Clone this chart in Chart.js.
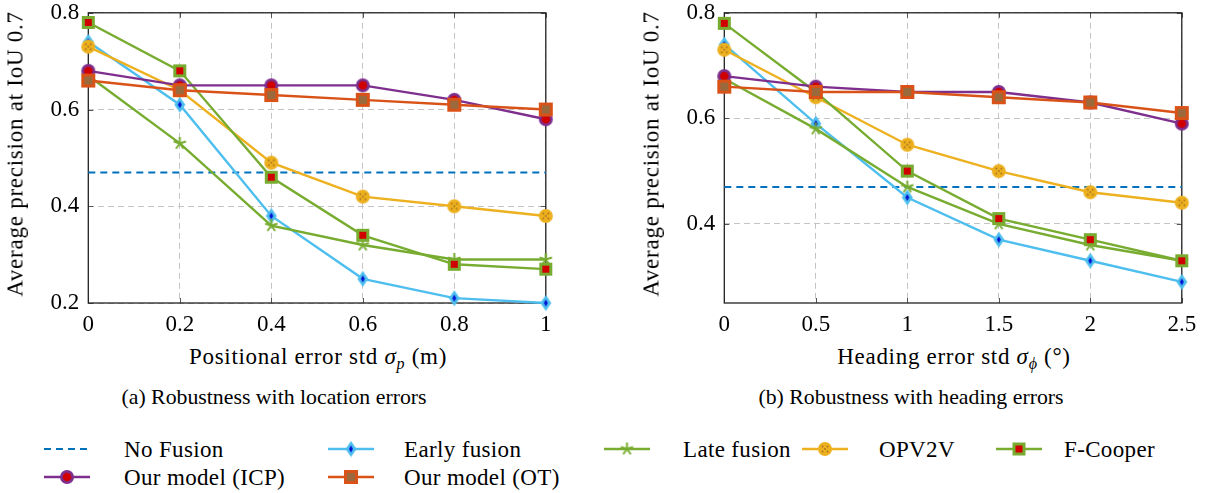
<!DOCTYPE html>
<html>
<head>
<meta charset="utf-8">
<script src="https://cdn.jsdelivr.net/npm/chart.js@4"></script>
<style>
  *{box-sizing:border-box;margin:0;padding:0}
  body{width:1205px;height:493px;overflow:hidden;position:relative;background:#fff;font-family:"Liberation Serif",serif;color:#000}
  .chart{position:absolute;top:-10px;width:569px;height:349px}
  .ytitle{position:absolute;top:153.5px;width:320px;text-align:center;font-size:23px;line-height:1;letter-spacing:0.75px;white-space:nowrap;transform:translate(-50%,-50%) rotate(-90deg)}
  .xtitle{position:absolute;top:345px;font-size:23px;line-height:1;letter-spacing:0.7px;white-space:nowrap;transform:translateX(-50%)}
  .xtitle sub{font-size:16px;vertical-align:-5px;line-height:0}
  .caption{position:absolute;top:387px;font-size:21.8px;line-height:1;white-space:nowrap;transform:translateX(-50%)}
  .leg{position:absolute;font-size:23px;line-height:1;letter-spacing:0.35px;white-space:nowrap}
</style>
</head>
<body>
<div class="chart" style="left:0"><canvas id="posChart"></canvas></div>
<div class="chart" style="left:636px"><canvas id="headChart"></canvas></div>

<div class="ytitle" style="left:15px">Average precision at IoU 0.7</div>
<div class="ytitle" style="left:651px">Average precision at IoU 0.7</div>
<div class="xtitle" style="left:318px">Positional error std <i>σ</i><sub><i>p</i></sub> (m)</div>
<div class="xtitle" style="left:954px">Heading error std <i>σ</i><sub><i>ϕ</i></sub> (°)</div>
<div class="caption" style="left:274px">(a) Robustness with location errors</div>
<div class="caption" style="left:911px">(b) Robustness with heading errors</div>

<div id="legend"></div>

<script>
// x categories and y ticks
const posLabels = ["0", "0.2", "0.4", "0.6", "0.8", "1"];
const headLabels = ["0", "0.5", "1", "1.5", "2", "2.5"];
const posTicks = [0.2, 0.4, 0.6, 0.8];
const headTicks = [0.4, 0.6, 0.8];

// (a) positional error
const posNoFusion = [0.47, 0.47, 0.47, 0.47, 0.47, 0.47];
const posEarly = [0.74, 0.61, 0.38, 0.25, 0.21, 0.20];
const posLate = [0.67, 0.53, 0.36, 0.32, 0.29, 0.29];
const posOPV2V = [0.73, 0.64, 0.49, 0.42, 0.40, 0.38];
const posFCooper = [0.78, 0.68, 0.46, 0.34, 0.28, 0.27];
const posICP = [0.68, 0.65, 0.65, 0.65, 0.62, 0.58];
const posOT = [0.66, 0.64, 0.63, 0.62, 0.61, 0.60];

// (b) heading error
const headNoFusion = [0.47, 0.47, 0.47, 0.47, 0.47, 0.47];
const headEarly = [0.74, 0.59, 0.45, 0.37, 0.33, 0.29];
const headLate = [0.675, 0.58, 0.47, 0.40, 0.36, 0.33];
const headOPV2V = [0.73, 0.64, 0.55, 0.50, 0.46, 0.44];
const headFCooper = [0.78, 0.65, 0.50, 0.41, 0.37, 0.33];
const headICP = [0.68, 0.66, 0.65, 0.65, 0.63, 0.59];
const headOT = [0.66, 0.65, 0.65, 0.64, 0.63, 0.61];

const FONT = '"Liberation Serif", serif';

// marker images
function mk(w, h, draw) {
  const c = document.createElement("canvas");
  c.width = w; c.height = h;
  draw(c.getContext("2d"));
  return c;
}
const mDiamond = mk(12, 17, g => {
  g.fillStyle = "#4DBEEE";
  g.beginPath(); g.moveTo(6, 0.5); g.lineTo(11.5, 8.5); g.lineTo(6, 16.5); g.lineTo(0.5, 8.5); g.closePath(); g.fill();
  g.fillStyle = "#0010D0";
  g.beginPath(); g.moveTo(6, 5); g.lineTo(8, 8.5); g.lineTo(6, 12); g.lineTo(4, 8.5); g.closePath(); g.fill();
});
const mStar = mk(15, 15, g => {
  g.strokeStyle = "#77AC30"; g.lineWidth = 2;
  for (let i = 0; i < 5; i++) {
    const a = -Math.PI / 2 + i * 2 * Math.PI / 5;
    g.beginPath(); g.moveTo(7.5, 7.5); g.lineTo(7.5 + 6.5 * Math.cos(a), 7.5 + 6.5 * Math.sin(a)); g.stroke();
  }
});
const mOPV = mk(16, 16, g => {
  g.fillStyle = "#EDB120";
  g.beginPath(); g.arc(8, 8, 7, 0, Math.PI * 2); g.fill();
  g.fillStyle = "#A8701C";
  [[5.5, 5.5], [10.5, 5.5], [8, 8], [5.5, 10.5], [10.5, 10.5]].forEach(([x, y]) => {
    g.beginPath(); g.arc(x, y, 0.9, 0, Math.PI * 2); g.fill();
  });
});
const mFC = mk(15, 15, g => {
  g.fillStyle = "#77AC30"; g.fillRect(1, 1, 13, 13);
  g.fillStyle = "#D00000"; g.fillRect(4, 4, 7, 7);
});
const mICP = mk(16, 16, g => {
  g.fillStyle = "#7E2F8E"; g.beginPath(); g.arc(8, 8, 7, 0, Math.PI * 2); g.fill();
  g.fillStyle = "#D00000"; g.beginPath(); g.arc(8, 8, 4.3, 0, Math.PI * 2); g.fill();
});
const mOT = mk(16, 16, g => {
  g.fillStyle = "#D95319"; g.fillRect(1, 1, 14, 14);
  g.fillStyle = "#9B6A3C"; g.fillRect(4, 4, 8, 8);
});

const series = [
  { label: "No Fusion", color: "#0072BD", marker: null, dash: [7, 5], width: 2 },
  { label: "Early fusion", color: "#4DBEEE", marker: mDiamond },
  { label: "Late fusion", color: "#77AC30", marker: mStar },
  { label: "OPV2V", color: "#EDB120", marker: mOPV },
  { label: "F-Cooper", color: "#77AC30", marker: mFC },
  { label: "Our model (ICP)", color: "#7E2F8E", marker: mICP },
  { label: "Our model (OT)", color: "#D95319", marker: mOT }
];

// axis box with small inner tick marks, drawn under the data
const framePlugin = {
  id: "frame",
  beforeDatasetsDraw(chart) {
    const { ctx, chartArea: a, scales } = chart;
    ctx.save();
    ctx.strokeStyle = "#555"; ctx.lineWidth = 1;
    scales.x.ticks.forEach((t, i) => {
      const px = Math.round(scales.x.getPixelForTick(i)) + 0.5;
      ctx.beginPath(); ctx.moveTo(px, a.bottom); ctx.lineTo(px, a.bottom - 5);
      ctx.moveTo(px, a.top); ctx.lineTo(px, a.top + 5); ctx.stroke();
    });
    scales.y.ticks.forEach(t => {
      const py = Math.round(scales.y.getPixelForValue(t.value)) + 0.5;
      ctx.beginPath(); ctx.moveTo(a.left, py); ctx.lineTo(a.left + 5, py);
      ctx.moveTo(a.right, py); ctx.lineTo(a.right - 5, py); ctx.stroke();
    });
    ctx.strokeStyle = "#222"; ctx.lineWidth = 1.3;
    ctx.strokeRect(a.left, a.top, a.right - a.left, a.bottom - a.top);
    ctx.restore();
  }
};

function makeChart(id, labels, data, yMin, yMax, yTicks) {
  new Chart(document.getElementById(id), {
    type: "line",
    data: {
      labels,
      datasets: series.map((s, i) => ({
        label: s.label,
        data: data[i],
        borderColor: s.color,
        backgroundColor: s.color,
        borderWidth: s.width || 2.4,
        borderDash: s.dash || [],
        pointStyle: s.marker || "circle",
        pointRadius: s.marker ? 6 : 0,
        pointHoverRadius: s.marker ? 6 : 0,
        tension: 0,
        clip: false,
        order: series.length - i
      }))
    },
    options: {
      responsive: true,
      maintainAspectRatio: false,
      animation: false,
      events: [],
      layout: { padding: { top: 19.5, right: 23.2, left: 0, bottom: 0 } },
      plugins: { legend: { display: false }, tooltip: { enabled: false } },
      scales: {
        x: {
          type: "category",
          offset: false,
          afterFit: s => { s.height = 36; },
          grid: { color: "#C4C4C4", lineWidth: 1, drawTicks: false },
          border: { display: false, dash: [6, 4] },
          ticks: { color: "#000", padding: 8, maxRotation: 0, autoSkip: false, font: { family: FONT, size: 23 } }
        },
        y: {
          min: yMin, max: yMax,
          afterFit: s => { s.width = 88.3; },
          afterBuildTicks: s => { s.ticks = yTicks.map(v => ({ value: v })); },
          grid: { color: "#C4C4C4", lineWidth: 1, drawTicks: false },
          border: { display: false, dash: [6, 4] },
          ticks: { color: "#000", padding: 9, callback: v => v.toFixed(1), font: { family: FONT, size: 23 } }
        }
      }
    },
    plugins: [framePlugin]
  });
}

makeChart("posChart", posLabels,
  [posNoFusion, posEarly, posLate, posOPV2V, posFCooper, posICP, posOT], 0.2, 0.8, posTicks);
makeChart("headChart", headLabels,
  [headNoFusion, headEarly, headLate, headOPV2V, headFCooper, headICP, headOT], 0.25, 0.8, headTicks);

// legend: line sample x, text x, row centre y
const legendPos = [
  { sx: 43, tx: 124, y: 449 }, { sx: 327, tx: 404, y: 449 }, { sx: 603, tx: 683, y: 449 },
  { sx: 801, tx: 879, y: 449 }, { sx: 995, tx: 1064, y: 449 },
  { sx: 43, tx: 124, y: 477 }, { sx: 327, tx: 404, y: 477 }
];
const legend = document.getElementById("legend");
series.forEach((s, i) => {
  const p = legendPos[i];
  const c = document.createElement("canvas");
  c.width = 48; c.height = 20;
  c.style.position = "absolute"; c.style.left = p.sx + "px"; c.style.top = (p.y - 10) + "px";
  const g = c.getContext("2d");
  g.strokeStyle = s.color; g.lineWidth = s.width || 2.4;
  g.setLineDash(s.dash || []);
  g.beginPath(); g.moveTo(1, 10); g.lineTo(47, 10); g.stroke();
  if (s.marker) g.drawImage(s.marker, 24 - s.marker.width / 2, 10 - s.marker.height / 2);
  legend.appendChild(c);
  const t = document.createElement("div");
  t.className = "leg";
  t.style.left = p.tx + "px"; t.style.top = (p.y - 11.5) + "px";
  t.textContent = s.label;
  legend.appendChild(t);
});
</script>
</body>
</html>
